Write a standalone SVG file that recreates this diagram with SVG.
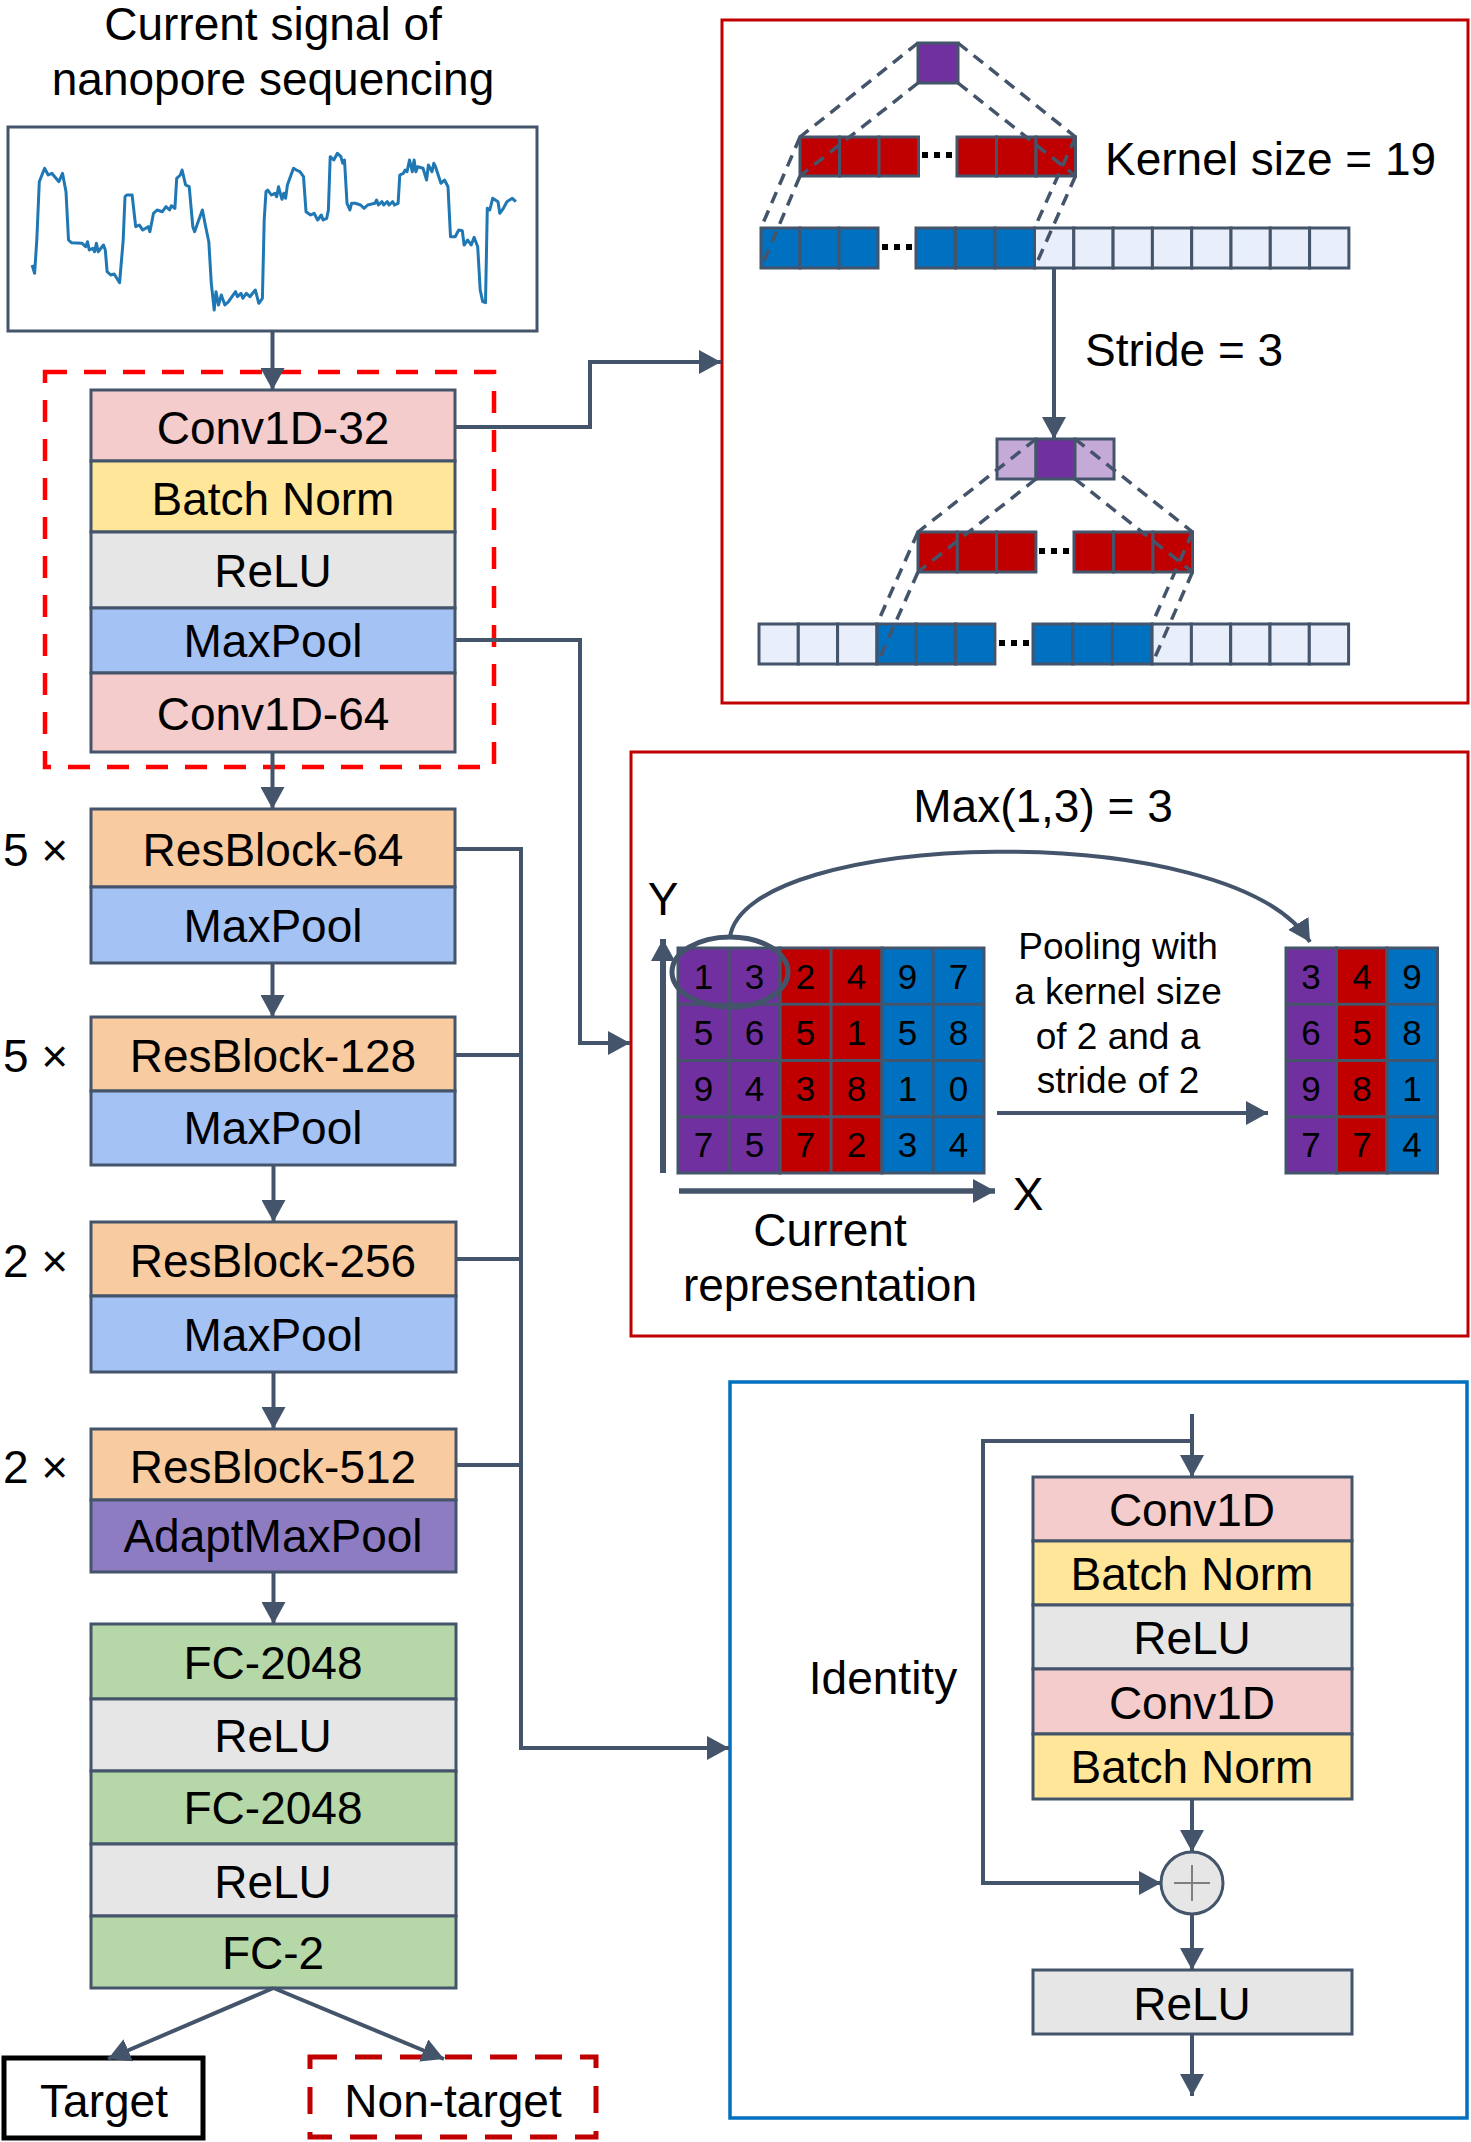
<svg xmlns="http://www.w3.org/2000/svg" width="1471" height="2142" viewBox="0 0 1471 2142">
<style>
text{font-family:"Liberation Sans",Arial,sans-serif;fill:#000;text-anchor:middle}
.t{font-size:46px}
.s{font-size:37px}
.d{font-size:35px}
.b{stroke:#44546A;stroke-width:3}
.ln{fill:none;stroke:#44546A;stroke-width:4}
.ds{fill:none;stroke:#44546A;stroke-width:3.5;stroke-dasharray:12 8}
.dots{stroke:#000;stroke-width:6;stroke-dasharray:6 6}
.conv{fill:#F4CCCC}.bn{fill:#FFE699}.relu{fill:#E6E6E6}.mp{fill:#A4C2F4}
.rb{fill:#F8CBA0}.amp{fill:#8E7CC3}.fc{fill:#B6D7A8}
.red{fill:#C00000}.pur{fill:#7030A0}.lpur{fill:#C5AAD8}.blu{fill:#0070C0}.lblu{fill:#E9EFFA}
.gr{stroke:#44546A;stroke-width:3}
</style>
<defs>
<marker id="ah" viewBox="0 0 10 10" refX="10" refY="5" markerWidth="22" markerHeight="24" markerUnits="userSpaceOnUse" orient="auto" preserveAspectRatio="none"><path d="M0,0 L10,5 L0,10 z" fill="#44546A"/></marker>
</defs>
<rect width="1471" height="2142" fill="#fff"/>

<!-- input signal -->
<g id="signal">
<text class="t" x="273" y="40">Current signal of</text>
<text class="t" x="273" y="95">nanopore sequencing</text>
<rect x="8" y="127" width="529" height="204" fill="#fff" stroke="#44546A" stroke-width="3"/>
<polyline fill="none" stroke="#1F77B4" stroke-width="3" stroke-linejoin="round" points="32.1,265 34.6,273.3 36.8,240 39.3,181.7 44.6,168.3 48.2,175 51.8,173.3 58.9,181.7 62.5,173.3 66,191.7 68.5,240 71.4,242.7 82.1,243.3 85.7,246.7 87.5,241.7 89.3,250 92.8,248.3 94.6,251.7 96.4,243.3 98.2,251.7 103.5,245 105.3,250 107.1,271.7 110.7,275 114.2,274 119.6,282.7 123.2,240 125,196.7 126.7,195 132.1,195 135.7,226.7 139.2,225 142.8,230 148.2,226.7 149.9,231.7 153.5,213.3 157.1,210 162.4,211.7 166,206.7 169.6,210 171.4,205.7 174.9,208.3 176.7,178.3 180.3,175 182.1,170 185.6,185 189.2,186.7 192.8,226.7 194.6,231.7 198.1,221.7 202.4,210 205.3,225 208.8,241.7 211.3,283.3 214.2,310 216,291.7 218.5,305 221.3,295 224.9,305 228.5,301.7 232,296.7 235.6,291.7 237.4,296.7 241,293.3 242.8,298.3 246.3,293.3 249.9,296.7 255.3,290 258.8,303.3 262.4,298.3 264.2,220 266,191.7 267.8,190 271.3,195 274.9,193.3 276.7,196.7 278.5,186.7 282,199.3 283.8,193.3 285.6,198.3 287.4,185 291,175 293.5,168.3 296.3,170 299.9,171.7 303.5,176.7 306,211.7 310.6,215 314.2,213.3 315.9,216.7 317.7,220 321.3,215 323.1,220 326.7,218.3 328.4,210 330.2,156.7 333.8,160 337.4,153.3 340.9,156.7 342.7,163.3 344.5,160 347,203.3 349.9,210 351.6,203.3 355.2,203.3 360.6,205 364.1,208.3 367.7,205 374.9,203.3 376.6,200 378.4,205 382,201.7 383.8,205 387.3,201.7 389.1,205 392.7,201.7 394.5,205 398.1,203.3 399.8,175 403.4,173.3 405.2,170 407,171.7 409.5,160 412.3,171.7 414.1,160 415.9,171.7 417.7,166.7 423,168.3 426.6,180 428.4,165 432,171.7 433.8,163.3 435.5,166.7 440.9,183.3 444.5,180 448,186.7 450.5,236.7 455.2,236.7 458.7,230 462.3,230.7 464.1,245 467.7,240 471.2,245 474.1,237.3 477.7,246.7 480.2,290 482.7,301.7 485.5,302.7 487.3,208.3 489.8,210 492.7,198.3 498,201.7 499.8,213.3 503.4,208.3 506.9,201.7 512.3,198.3 515.9,201.7"/>
</g>

<!-- stem block -->
<g id="stem">
<rect x="91" y="390" width="364" height="71" class="conv b"/>
<rect x="91" y="461" width="364" height="71" class="bn b"/>
<rect x="91" y="532" width="364" height="76" class="relu b"/>
<rect x="91" y="608" width="364" height="65" class="mp b"/>
<rect x="91" y="673" width="364" height="79" class="conv b"/>
<text class="t" x="273" y="444">Conv1D-32</text>
<text class="t" x="273" y="515">Batch Norm</text>
<text class="t" x="273" y="587">ReLU</text>
<text class="t" x="273" y="657">MaxPool</text>
<text class="t" x="273" y="730">Conv1D-64</text>
<rect x="45" y="372" width="449" height="395" fill="none" stroke="#FF0000" stroke-width="4.5" stroke-dasharray="22 17"/>
</g>

<g id="res64">
<rect x="91" y="809" width="364" height="78" class="rb b"/>
<rect x="91" y="887" width="364" height="76" class="mp b"/>
<text class="t" x="273" y="866">ResBlock-64</text>
<text class="t" x="273" y="942">MaxPool</text>
<text class="t" x="3" y="866" style="text-anchor:start">5 ×</text>
</g>
<g id="res128">
<rect x="91" y="1017" width="364" height="74" class="rb b"/>
<rect x="91" y="1091" width="364" height="74" class="mp b"/>
<text class="t" x="273" y="1072">ResBlock-128</text>
<text class="t" x="273" y="1144">MaxPool</text>
<text class="t" x="3" y="1072" style="text-anchor:start">5 ×</text>
</g>
<g id="res256">
<rect x="91" y="1222" width="365" height="74" class="rb b"/>
<rect x="91" y="1296" width="365" height="76" class="mp b"/>
<text class="t" x="273" y="1277">ResBlock-256</text>
<text class="t" x="273" y="1351">MaxPool</text>
<text class="t" x="3" y="1277" style="text-anchor:start">2 ×</text>
</g>
<g id="res512">
<rect x="91" y="1429" width="365" height="71" class="rb b"/>
<rect x="91" y="1500" width="365" height="72" class="amp b"/>
<text class="t" x="273" y="1483">ResBlock-512</text>
<text class="t" x="273" y="1552">AdaptMaxPool</text>
<text class="t" x="3" y="1483" style="text-anchor:start">2 ×</text>
</g>
<g id="fc">
<rect x="91" y="1624" width="365" height="75" class="fc b"/>
<rect x="91" y="1699" width="365" height="72" class="relu b"/>
<rect x="91" y="1771" width="365" height="73" class="fc b"/>
<rect x="91" y="1844" width="365" height="72" class="relu b"/>
<rect x="91" y="1916" width="365" height="72" class="fc b"/>
<text class="t" x="273" y="1679">FC-2048</text>
<text class="t" x="273" y="1752">ReLU</text>
<text class="t" x="273" y="1824">FC-2048</text>
<text class="t" x="273" y="1898">ReLU</text>
<text class="t" x="273" y="1969">FC-2</text>
</g>
<g id="target">
<rect x="4" y="2058" width="199" height="80" fill="#fff" stroke="#000" stroke-width="5"/>
<text class="t" x="104" y="2117">Target</text>
</g>
<g id="nontarget">
<rect x="310" y="2057" width="286" height="80" fill="#fff" stroke="#C00000" stroke-width="5" stroke-dasharray="27 18"/>
<text class="t" x="453" y="2117">Non-target</text>
</g>

<!-- panel 1: convolution -->
<g id="conv-panel">
<rect x="722" y="20" width="746" height="683" fill="none" stroke="#C00000" stroke-width="3"/>
<rect x="918" y="43" width="40" height="40" class="pur gr"/>
<g class="gr">
<rect x="800" y="137" width="39.5" height="39" class="red"/><rect x="839.5" y="137" width="39.5" height="39" class="red"/><rect x="879" y="137" width="39.5" height="39" class="red"/>
<rect x="957" y="137" width="39.5" height="39" class="red"/><rect x="996.5" y="137" width="39.5" height="39" class="red"/><rect x="1036" y="137" width="39.5" height="39" class="red"/>
<rect x="761" y="228" width="39" height="40" class="blu"/><rect x="800" y="228" width="39" height="40" class="blu"/><rect x="839" y="228" width="39" height="40" class="blu"/>
<rect x="916" y="228" width="39.5" height="40" class="blu"/><rect x="955.5" y="228" width="39.5" height="40" class="blu"/><rect x="995" y="228" width="39.5" height="40" class="blu"/>
<rect x="1034.5" y="228" width="39.3" height="40" class="lblu"/><rect x="1073.8" y="228" width="39.3" height="40" class="lblu"/><rect x="1113.1" y="228" width="39.3" height="40" class="lblu"/><rect x="1152.4" y="228" width="39.3" height="40" class="lblu"/><rect x="1191.7" y="228" width="39.3" height="40" class="lblu"/><rect x="1231" y="228" width="39.3" height="40" class="lblu"/><rect x="1270.3" y="228" width="39.3" height="40" class="lblu"/><rect x="1309.6" y="228" width="39.3" height="40" class="lblu"/>
</g>
<line x1="922" y1="155" x2="953" y2="155" class="dots"/>
<line x1="882" y1="247" x2="913" y2="247" class="dots"/>
<line x1="918" y1="43" x2="800" y2="137" class="ds"/>
<line x1="918" y1="83" x2="800" y2="176" class="ds"/>
<line x1="958" y1="43" x2="1075.5" y2="137" class="ds"/>
<line x1="958" y1="83" x2="1075.5" y2="176" class="ds"/>
<line x1="800" y1="137" x2="761" y2="228" class="ds"/>
<line x1="800" y1="176" x2="761" y2="268" class="ds"/>
<line x1="1075.5" y1="137" x2="1034.5" y2="228" class="ds"/>
<line x1="1075.5" y1="176" x2="1034.5" y2="268" class="ds"/>
<text class="t" x="1105" y="175" style="text-anchor:start">Kernel size = 19</text>
<text class="t" x="1085" y="366" style="text-anchor:start">Stride = 3</text>
<line x1="1054" y1="268" x2="1054" y2="439" class="ln" marker-end="url(#ah)"/>
<g class="gr">
<rect x="997" y="439" width="39" height="40" class="lpur"/><rect x="1036" y="439" width="39" height="40" class="pur"/><rect x="1075" y="439" width="39" height="40" class="lpur"/>
<rect x="918" y="532" width="39.3" height="40" class="red"/><rect x="957.3" y="532" width="39.3" height="40" class="red"/><rect x="996.6" y="532" width="39.3" height="40" class="red"/>
<rect x="1074" y="532" width="39.5" height="40" class="red"/><rect x="1113.5" y="532" width="39.5" height="40" class="red"/><rect x="1153" y="532" width="39.5" height="40" class="red"/>
<rect x="759" y="624" width="39.3" height="40" class="lblu"/><rect x="798.3" y="624" width="39.3" height="40" class="lblu"/><rect x="837.6" y="624" width="39.3" height="40" class="lblu"/>
<rect x="877" y="624" width="39.3" height="40" class="blu"/><rect x="916.3" y="624" width="39.3" height="40" class="blu"/><rect x="955.6" y="624" width="39.3" height="40" class="blu"/>
<rect x="1033" y="624" width="39.7" height="40" class="blu"/><rect x="1072.7" y="624" width="39.7" height="40" class="blu"/><rect x="1112.4" y="624" width="39.7" height="40" class="blu"/>
<rect x="1152.1" y="624" width="39.3" height="40" class="lblu"/><rect x="1191.4" y="624" width="39.3" height="40" class="lblu"/><rect x="1230.7" y="624" width="39.3" height="40" class="lblu"/><rect x="1270" y="624" width="39.3" height="40" class="lblu"/><rect x="1309.3" y="624" width="39.3" height="40" class="lblu"/>
</g>
<line x1="1039" y1="551" x2="1070" y2="551" class="dots"/>
<line x1="999" y1="643" x2="1030" y2="643" class="dots"/>
<line x1="1036" y1="439" x2="918" y2="532" class="ds"/>
<line x1="1036" y1="479" x2="918" y2="572" class="ds"/>
<line x1="1075" y1="439" x2="1192.5" y2="532" class="ds"/>
<line x1="1075" y1="479" x2="1192.5" y2="572" class="ds"/>
<line x1="918" y1="532" x2="877" y2="624" class="ds"/>
<line x1="918" y1="572" x2="877" y2="664" class="ds"/>
<line x1="1192.5" y1="532" x2="1152" y2="624" class="ds"/>
<line x1="1192.5" y1="572" x2="1152" y2="664" class="ds"/>
</g>

<!-- panel 2: max pooling -->
<g id="pool-panel">
<rect x="631" y="752" width="837" height="584" fill="none" stroke="#C00000" stroke-width="3"/>
<text class="t" x="1043" y="822">Max(1,3) = 3</text>
<g class="gr">
<rect x="678" y="948" width="102" height="225" class="pur"/>
<rect x="780" y="948" width="102" height="225" class="red"/>
<rect x="882" y="948" width="102" height="225" class="blu"/>
<path d="M729,948V1173M780,948V1173M831,948V1173M882,948V1173M933,948V1173M678,1004.25H984M678,1060.5H984M678,1116.75H984" fill="none"/>
<rect x="1286" y="948" width="50.5" height="225" class="pur"/>
<rect x="1336.5" y="948" width="50.5" height="225" class="red"/>
<rect x="1387" y="948" width="50.5" height="225" class="blu"/>
<path d="M1286,1004.25H1437.5M1286,1060.5H1437.5M1286,1116.75H1437.5" fill="none"/>
</g>
<g class="d">
<text x="703.5" y="989">1</text><text x="754.5" y="989">3</text><text x="805.5" y="989">2</text><text x="856.5" y="989">4</text><text x="907.5" y="989">9</text><text x="958.5" y="989">7</text>
<text x="703.5" y="1045">5</text><text x="754.5" y="1045">6</text><text x="805.5" y="1045">5</text><text x="856.5" y="1045">1</text><text x="907.5" y="1045">5</text><text x="958.5" y="1045">8</text>
<text x="703.5" y="1101">9</text><text x="754.5" y="1101">4</text><text x="805.5" y="1101">3</text><text x="856.5" y="1101">8</text><text x="907.5" y="1101">1</text><text x="958.5" y="1101">0</text>
<text x="703.5" y="1157">7</text><text x="754.5" y="1157">5</text><text x="805.5" y="1157">7</text><text x="856.5" y="1157">2</text><text x="907.5" y="1157">3</text><text x="958.5" y="1157">4</text>
<text x="1311" y="989">3</text><text x="1362" y="989">4</text><text x="1412" y="989">9</text>
<text x="1311" y="1045">6</text><text x="1362" y="1045">5</text><text x="1412" y="1045">8</text>
<text x="1311" y="1101">9</text><text x="1362" y="1101">8</text><text x="1412" y="1101">1</text>
<text x="1311" y="1157">7</text><text x="1362" y="1157">7</text><text x="1412" y="1157">4</text>
</g>
<ellipse cx="730" cy="972" rx="58" ry="35" fill="none" stroke="#44546A" stroke-width="5"/>
<path d="M730,937 C745,830 1230,815 1310,942" class="ln" marker-end="url(#ah)"/>
<line x1="663" y1="1173" x2="663" y2="939" fill="none" stroke="#44546A" stroke-width="6" marker-end="url(#ah)"/>
<line x1="679" y1="1191" x2="995" y2="1191" fill="none" stroke="#44546A" stroke-width="5.5" marker-end="url(#ah)"/>
<text class="t" x="663" y="915">Y</text>
<text class="t" x="1028" y="1210">X</text>
<text class="t" x="830" y="1246">Current</text>
<text class="t" x="830" y="1301">representation</text>
<text class="s" x="1118" y="959">Pooling with</text>
<text class="s" x="1118" y="1004">a kernel size</text>
<text class="s" x="1118" y="1049">of 2 and a</text>
<text class="s" x="1118" y="1093">stride of 2</text>
<line x1="997" y1="1113" x2="1268" y2="1113" class="ln" marker-end="url(#ah)"/>
</g>

<!-- panel 3: residual block -->
<g id="res-panel">
<rect x="730" y="1382" width="737" height="736" fill="none" stroke="#0070C0" stroke-width="3.5"/>
<text class="t" x="883" y="1694">Identity</text>
<rect x="1033" y="1477" width="319" height="64" class="conv b"/>
<rect x="1033" y="1541" width="319" height="64" class="bn b"/>
<rect x="1033" y="1605" width="319" height="64" class="relu b"/>
<rect x="1033" y="1669" width="319" height="65" class="conv b"/>
<rect x="1033" y="1734" width="319" height="65" class="bn b"/>
<text class="t" x="1192" y="1526">Conv1D</text>
<text class="t" x="1192" y="1590">Batch Norm</text>
<text class="t" x="1192" y="1654">ReLU</text>
<text class="t" x="1192" y="1719">Conv1D</text>
<text class="t" x="1192" y="1783">Batch Norm</text>
<circle cx="1192" cy="1883" r="31" fill="#E6E6E6" stroke="#44546A" stroke-width="3"/>
<path d="M1174,1883H1210M1192,1865V1901" stroke="#7F7F7F" stroke-width="2" fill="none"/>
<rect x="1033" y="1970" width="319" height="64" class="relu b"/>
<text class="t" x="1192" y="2020">ReLU</text>
<line x1="1192" y1="1414" x2="1192" y2="1477" class="ln" marker-end="url(#ah)"/>
<polyline points="1192,1441 983,1441 983,1883 1161,1883" class="ln" marker-end="url(#ah)"/>
<line x1="1192" y1="1799" x2="1192" y2="1852" class="ln" marker-end="url(#ah)"/>
<line x1="1192" y1="1914" x2="1192" y2="1970" class="ln" marker-end="url(#ah)"/>
<line x1="1192" y1="2034" x2="1192" y2="2096" class="ln" marker-end="url(#ah)"/>
</g>

<!-- connectors -->
<g id="connectors">
<line x1="272.5" y1="331" x2="272.5" y2="390" class="ln" marker-end="url(#ah)"/>
<line x1="272.5" y1="752" x2="272.5" y2="809" class="ln" marker-end="url(#ah)"/>
<line x1="272.5" y1="963" x2="272.5" y2="1017" class="ln" marker-end="url(#ah)"/>
<line x1="273.5" y1="1165" x2="273.5" y2="1222" class="ln" marker-end="url(#ah)"/>
<line x1="273.5" y1="1372" x2="273.5" y2="1429" class="ln" marker-end="url(#ah)"/>
<line x1="273.5" y1="1572" x2="273.5" y2="1624" class="ln" marker-end="url(#ah)"/>
<polyline points="455,427 590,427 590,362 721,362" class="ln" marker-end="url(#ah)"/>
<polyline points="455,640 580,640 580,1043 630,1043" class="ln" marker-end="url(#ah)"/>
<polyline points="455,849 521,849 521,1748 729,1748" class="ln" marker-end="url(#ah)"/>
<line x1="455" y1="1055" x2="521" y2="1055" class="ln"/>
<line x1="456" y1="1259" x2="521" y2="1259" class="ln"/>
<line x1="456" y1="1465" x2="521" y2="1465" class="ln"/>
<line x1="273.5" y1="1988" x2="108" y2="2059" class="ln" marker-end="url(#ah)"/>
<line x1="273.5" y1="1988" x2="444" y2="2059" class="ln" marker-end="url(#ah)"/>
</g>
</svg>
